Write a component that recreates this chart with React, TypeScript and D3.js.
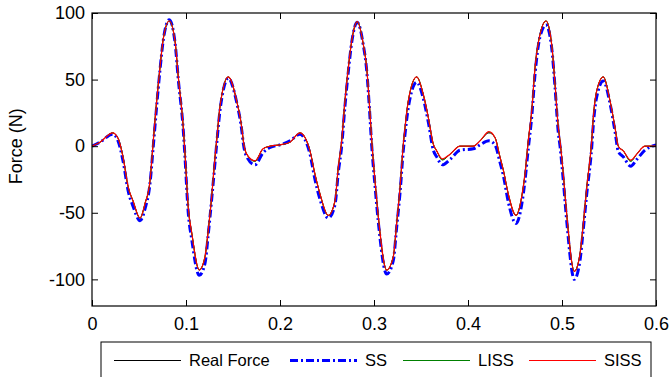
import { useEffect, useRef } from "react";
import * as d3 from "d3";

// Sample times (s)
const times = [
  0, 0.0085, 0.022, 0.0277, 0.033, 0.0386, 0.0436, 0.0511, 0.0564, 0.0617,
  0.0652, 0.0688, 0.0723, 0.0759, 0.0822, 0.0883, 0.0918, 0.0971, 0.0989, 0.1024,
  0.1061, 0.1141, 0.1202, 0.1237, 0.1273, 0.1309, 0.1327, 0.1362, 0.145, 0.1539,
  0.1593, 0.161, 0.1646, 0.1734, 0.1819, 0.1894, 0.2, 0.2106,
  0.2213, 0.2266, 0.2319, 0.2372, 0.2426, 0.2514, 0.2585, 0.262, 0.2656, 0.2691,
  0.2727, 0.2763, 0.2822, 0.2886, 0.2922, 0.2949, 0.2976, 0.3011, 0.3046, 0.3135,
  0.3205, 0.3241, 0.3277, 0.3312, 0.333, 0.3365, 0.3454, 0.3524, 0.3578, 0.3631,
  0.3667, 0.3727, 0.3809, 0.3915, 0.4056,
  0.4128, 0.4223, 0.4287, 0.434, 0.4376, 0.4429, 0.4511, 0.4571, 0.4606, 0.4641,
  0.4678, 0.4713, 0.4766, 0.483, 0.489, 0.4926, 0.4961, 0.4979, 0.5014, 0.505,
  0.5131, 0.5191, 0.5227, 0.5263, 0.5316, 0.5333, 0.5369, 0.5439, 0.5511, 0.5564,
  0.5599, 0.5652, 0.5731, 0.5795, 0.5883, 0.6,
];

// Force values (N)
const realForce = [
  0, 3, 10, 6, -8, -31, -41, -54, -43, -26,
  4, 34, 59, 81, 94, 79, 52, 14, -5, -46,
  -65, -93, -83, -63, -38, -8, 5, 30, 52, 34,
  14, 4, -6, -11, -2, 0, 1, 3,
  10, 6.5, -3.5, -21, -36, -52, -41, -16, 4, 34,
  59, 79, 93.5, 76.5, 59, 34, 4, -26, -53, -93,
  -83, -58, -31, 1.5, 14, 34, 52, 39, 21.5, 1.5,
  -3.5, -10, -6, 0, 0,
  4, 10, 6.5, -8, -18, -36, -52, -38, -21, 4,
  26.5, 59, 84, 94, 76.5, 46.5, 14, 4, -21, -51,
  -94, -81, -58, -31, 4, 21.5, 41.5, 52, 34, 14,
  0, -3.5, -11, -6, 0, 0,
];

const ssForce = [
  0, 3, 9, 4, -11, -34, -45, -56, -47, -28,
  0, 30, 57, 80, 95, 78, 50, 12, -8, -50,
  -70, -97, -88, -66, -40, -12, 2, 27, 51, 33,
  12, 2, -8, -14, -5, -1, 1, 4,
  9, 5, -6, -25, -40, -54, -44, -20, 0, 30,
  56, 78, 93, 76, 57, 31, 0, -30, -57, -96,
  -86, -61, -35, -3, 9, 29, 48, 36, 18, -3,
  -8, -14, -10, -3, -2,
  1, 4, 1, -12, -22, -42, -58, -44, -26, -2,
  22, 54, 82, 91, 74, 44, 10, 0, -26, -56,
  -100, -86, -62, -36, -1, 16, 37, 49, 32, 11,
  -4, -8, -15, -10, -3, 1,
];

const lissForce = [
  0, 3, 10, 6, -8, -31, -41, -54, -43, -26,
  4, 34, 59, 81, 94, 79, 52, 14, -5, -46,
  -65, -93, -83, -63, -38, -8, 5, 30, 52, 34,
  14, 4, -6, -11.5, -2, 0, 1, 3,
  10, 6.5, -3.5, -21, -36, -52, -41, -16, 4, 34,
  59, 79, 93.5, 76.5, 59, 34, 4, -26, -53, -93,
  -83, -58, -31, 1.5, 14, 34, 52, 39, 21.5, 1.5,
  -3.5, -10.5, -6, 0, 0,
  4, 10.5, 6.5, -8, -18, -36, -52, -38, -21, 4,
  26.5, 59, 84, 94, 76.5, 46.5, 14, 4, -21, -51,
  -94, -81, -58, -31, 4, 21.5, 41.5, 52, 34, 14,
  0, -3.5, -11.5, -6, 0, 0,
];

const sissForce = [
  0, 3, 10, 6, -8, -31, -41, -54, -43, -26,
  4, 34, 59, 81, 94, 79, 52, 14, -5, -46,
  -65, -93, -83, -63, -38, -8, 5, 30, 52, 34,
  14, 4, -6, -11, -2, 0, 1, 3,
  10, 6.5, -3.5, -21, -36, -52, -41, -16, 4, 34,
  59, 79, 93.5, 76.5, 59, 34, 4, -26, -53, -93,
  -83, -58, -31, 1.5, 14, 34, 52, 39, 21.5, 1.5,
  -3.5, -9.5, -6, 0, 0,
  4, 11, 6.5, -8, -18, -36, -52, -38, -21, 4,
  26.5, 59, 84, 94, 76.5, 46.5, 14, 4, -21, -51,
  -94, -81, -58, -31, 4, 21.5, 41.5, 52, 34, 14,
  0, -3.5, -10.5, -6, 0, 0,
];

const xTicks = [0, 0.1, 0.2, 0.3, 0.4, 0.5, 0.6];
const yTicks = [-100, -50, 0, 50, 100];
const legendLabels = ["Real Force", "SS", "LISS", "SISS"];

interface Series {
  name: string;
  values: number[];
  color: string;
  width: number;
  dash: string | null;
}

export default function App() {
  const svgRef = useRef<SVGSVGElement>(null);

  useEffect(() => {
    if (!svgRef.current) return;

    const svg = d3.select(svgRef.current);
    svg.selectAll("*").remove();

    const width = 672;
    const height = 377;
    const margin = { top: 13, right: 16, bottom: 71, left: 92 };
    const chartWidth = width - margin.left - margin.right;
    const chartHeight = height - margin.top - margin.bottom;
    const font = "'Liberation Sans', Arial, sans-serif";

    svg.attr("width", width).attr("height", height);

    svg.append("rect").attr("width", width).attr("height", height).attr("fill", "#fff");

    const g = svg
      .append("g")
      .attr("transform", `translate(${margin.left},${margin.top})`);

    const xScale = d3.scaleLinear().domain([0, 0.6]).range([0, chartWidth]);
    const yScale = d3.scaleLinear().domain([-120, 100]).range([chartHeight, 0]);

    const series: Series[] = [
      { name: legendLabels[0], values: realForce, color: "#000000", width: 1, dash: null },
      { name: legendLabels[1], values: ssForce, color: "#0000ff", width: 3, dash: "8,3,2,3" },
      { name: legendLabels[2], values: lissForce, color: "#008000", width: 1, dash: null },
      { name: legendLabels[3], values: sissForce, color: "#ff0000", width: 1.2, dash: null },
    ];

    g.append("clipPath")
      .attr("id", "plot-clip")
      .append("rect")
      .attr("width", chartWidth)
      .attr("height", chartHeight);

    const line = d3
      .line<number>()
      .x((_, i) => xScale(times[i]))
      .y((d) => yScale(d))
      .curve(d3.curveMonotoneX);

    const lines = g.append("g").attr("clip-path", "url(#plot-clip)");
    series.forEach((s) => {
      const p = lines
        .append("path")
        .datum(s.values)
        .attr("fill", "none")
        .attr("stroke", s.color)
        .attr("stroke-width", s.width)
        .attr("stroke-linejoin", "round")
        .attr("d", line);
      if (s.dash) p.attr("stroke-dasharray", s.dash);
    });

    // Axes, MATLAB style ticks pointing inward
    const styleAxis = (sel: d3.Selection<SVGGElement, unknown, null, undefined>) => {
      sel.select(".domain").remove();
      sel.selectAll("line").attr("stroke", "#000");
      sel
        .selectAll("text")
        .attr("fill", "#000")
        .style("font-family", font)
        .style("font-size", "18px");
    };

    const plain = (d: d3.NumberValue) => String(+d);

    g.append("g")
      .attr("transform", `translate(0,${chartHeight})`)
      .call(
        d3
          .axisBottom(xScale)
          .tickValues(xTicks)
          .tickSizeInner(-6)
          .tickSizeOuter(0)
          .tickPadding(11)
          .tickFormat(plain)
      )
      .call(styleAxis);

    g.append("g")
      .call(
        d3
          .axisTop(xScale)
          .tickValues(xTicks)
          .tickSizeInner(-6)
          .tickSizeOuter(0)
          .tickFormat(() => "")
      )
      .call(styleAxis);

    g.append("g")
      .call(
        d3
          .axisLeft(yScale)
          .tickValues(yTicks)
          .tickSizeInner(-6)
          .tickSizeOuter(0)
          .tickPadding(7)
          .tickFormat(plain)
      )
      .call(styleAxis);

    g.append("g")
      .attr("transform", `translate(${chartWidth},0)`)
      .call(
        d3
          .axisRight(yScale)
          .tickValues(yTicks)
          .tickSizeInner(-6)
          .tickSizeOuter(0)
          .tickFormat(() => "")
      )
      .call(styleAxis);

    g.append("rect")
      .attr("width", chartWidth)
      .attr("height", chartHeight)
      .attr("fill", "none")
      .attr("stroke", "#000")
      .attr("stroke-width", 1.2);

    // Y label
    svg
      .append("text")
      .attr("transform", `translate(22,${margin.top + yScale(0)}) rotate(-90)`)
      .attr("text-anchor", "middle")
      .attr("fill", "#000")
      .style("font-family", font)
      .style("font-size", "18px")
      .text("Force (N)");

    // Legend
    const legend = svg.append("g");
    legend
      .append("rect")
      .attr("x", 101)
      .attr("y", 342)
      .attr("width", 550)
      .attr("height", 45)
      .attr("fill", "#fff")
      .attr("stroke", "#000")
      .attr("stroke-width", 1);

    const legendLineX = [114, 290, 403, 529];
    series.forEach((s, i) => {
      const x0 = legendLineX[i];
      const l = legend
        .append("line")
        .attr("x1", x0)
        .attr("x2", x0 + 67)
        .attr("y1", 360.5)
        .attr("y2", 360.5)
        .attr("stroke", s.color)
        .attr("stroke-width", s.width);
      if (s.dash) l.attr("stroke-dasharray", s.dash);
      legend
        .append("text")
        .attr("x", x0 + 75)
        .attr("y", 366)
        .attr("fill", "#000")
        .style("font-family", font)
        .style("font-size", "16.5px")
        .text(s.name);
    });
  }, []);

  return (
    <svg
      ref={svgRef}
      width={672}
      height={377}
      style={{ position: "absolute", left: 0, top: 0 }}
    />
  );
}
